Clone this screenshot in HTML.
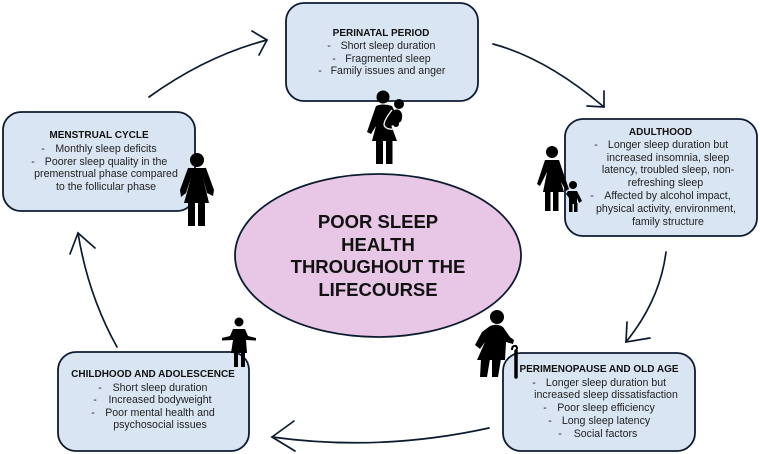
<!DOCTYPE html>
<html><head><meta charset="utf-8"><style>
html,body{margin:0;padding:0;background:#fff;width:760px;height:454px;overflow:hidden}
svg{display:block}
text{font-family:"Liberation Sans",sans-serif;font-size:10.6px;fill:#222;text-anchor:middle}
.t{font-size:10px;font-weight:bold;fill:#111}
.b{fill:#dae5f3;stroke:#0d1b30;stroke-width:1.8}
.a{fill:none;stroke:#0d1b30;stroke-width:1.7;stroke-linecap:round}
.m text{font-size:18.5px;font-weight:bold;fill:#111}
</style></head><body>
<svg width="760" height="454" viewBox="0 0 760 454" xmlns="http://www.w3.org/2000/svg">
<!-- arrows -->
<path class="a" d="M149 97Q206 56 267 40"/><path class="a" d="M252 31L267 40L259 55"/>
<path class="a" d="M493 44Q546 58 604 107"/><path class="a" d="M604 91L604 107L587 106"/>
<path class="a" d="M666 252Q660 300 626 342"/><path class="a" d="M627 322L626 342L650 338"/>
<path class="a" d="M489 428Q380 452 272 437"/><path class="a" d="M294 421L272 437L295 451"/>
<path class="a" d="M117 347Q88 295 78 233"/><path class="a" d="M70 254L78 233L95 248"/>
<!-- ellipse -->
<ellipse cx="378" cy="255.500" rx="143" ry="81.500" fill="#e8c6e6" stroke="#0d1b30" stroke-width="1.8"/>
<g class="m">
<text x="378" y="228">POOR SLEEP</text>
<text x="378" y="251">HEALTH</text>
<text x="378" y="273">THROUGHOUT THE</text>
<text x="378" y="296">LIFECOURSE</text>
</g>
<!-- boxes -->
<rect class="b" x="286" y="3" width="192" height="98" rx="18"/>
<rect class="b" x="565" y="119" width="192" height="117" rx="18"/>
<rect class="b" x="503" y="353" width="192" height="98" rx="18"/>
<rect class="b" x="58" y="352" width="191" height="99" rx="18"/>
<rect class="b" x="3" y="112" width="192" height="99" rx="18"/>
<!-- perinatal -->
<text class="t" x="381" y="36">PERINATAL PERIOD</text>
<text x="329" y="49">-</text><text x="388" y="49">Short sleep duration</text>
<text x="334" y="62">-</text><text x="388" y="62">Fragmented sleep</text>
<text x="320" y="74">-</text><text x="388" y="74">Family issues and anger</text>
<!-- adulthood -->
<text class="t" x="660.500" y="135">ADULTHOOD</text>
<text x="596" y="148">-</text><text x="668" y="148">Longer sleep duration but</text>
<text x="668" y="161">increased insomnia, sleep</text>
<text x="668" y="173">latency, troubled sleep, non-</text>
<text x="665.500" y="186">refreshing sleep</text>
<text x="592" y="199">-</text><text x="667.500" y="199">Affected by alcohol impact,</text>
<text x="666" y="212">physical activity, environment,</text>
<text x="668" y="225">family structure</text>
<!-- perimenopause -->
<text class="t" x="599" y="372">PERIMENOPAUSE AND OLD AGE</text>
<text x="534" y="386">-</text><text x="606" y="386">Longer sleep duration but</text>
<text x="606" y="398">increased sleep dissatisfaction</text>
<text x="545" y="411">-</text><text x="606" y="411">Poor sleep efficiency</text>
<text x="550" y="424">-</text><text x="606" y="424">Long sleep latency</text>
<text x="560" y="437">-</text><text x="605.500" y="437">Social factors</text>
<!-- childhood -->
<text class="t" x="153" y="377">CHILDHOOD AND ADOLESCENCE</text>
<text x="100" y="391">-</text><text x="160" y="391">Short sleep duration</text>
<text x="95" y="403">-</text><text x="160" y="403">Increased bodyweight</text>
<text x="93" y="416">-</text><text x="160" y="416">Poor mental health and</text>
<text x="160" y="428">psychosocial issues</text>
<!-- menstrual -->
<text class="t" x="99" y="138">MENSTRUAL CYCLE</text>
<text x="43" y="152">-</text><text x="106" y="152">Monthly sleep deficits</text>
<text x="33" y="165">-</text><text x="106" y="165">Poorer sleep quality in the</text>
<text x="106" y="177">premenstrual phase compared</text>
<text x="106" y="190">to the follicular phase</text>
<!-- figure: perinatal mother -->
<g fill="#000">
<circle cx="383" cy="97" r="6.500"/>
<path d="M376 106Q383 103 392 106L395 112L391 125L397 141H372L376 126L371 134L367 132Z"/>
<rect x="376" y="140" width="7" height="24"/><rect x="386" y="140" width="6.500" height="24"/>
<circle cx="399" cy="104" r="5"/>
<path d="M394 110Q400 108 402 114Q403 122 398 123L391 126Q385 123 391 118Z"/>
<circle cx="396" cy="124" r="3"/>
</g>
<path d="M392 110Q384 120 384 125Q386 130 394 129" fill="none" stroke="#fff" stroke-width="1.300"/>
<!-- figure: adult with child -->
<g fill="#000">
<circle cx="552" cy="152" r="6"/>
<path d="M545 160H559L563 172L569 189L566 191L561 182L564 192H543L547 172L540 186L537 184Z"/>
<rect x="545" y="191" width="5.500" height="20"/><rect x="553" y="191" width="5.500" height="20"/>
<circle cx="573" cy="185" r="4"/>
<path d="M568 191H577L582 201L579 203L577 198V204H569V198L566 194Z"/>
<rect x="569" y="203" width="3.500" height="9"/><rect x="574" y="203" width="3.500" height="9"/>
<!-- elder -->
<circle cx="497" cy="317" r="7"/>
<path d="M490 326Q497 323 503 327L510 337L514 340L513 344L506 342L505 360H477L485 342L480 349L475 345L482 332Z"/>
<path d="M481 359H490L487 377H480Z"/><path d="M492 359H501L498 377H492Z"/>
</g>
<path d="M512 350Q512 345 516 346Q518 348 516 351" fill="none" stroke="#000" stroke-width="2"/>
<path d="M516 351V377" stroke="#000" stroke-width="3.500" stroke-linecap="round"/>
<!-- child figure -->
<g fill="#000">
<circle cx="239" cy="322" r="4.500"/>
<path d="M233 329H245L248 336L256 338V340.500L246 340L247 353H231L233 340L222 340.500V338L230 336Z"/>
<rect x="234" y="352" width="4" height="15"/><rect x="241" y="352" width="4" height="15"/>
<!-- menstrual woman -->
<circle cx="197" cy="160" r="7"/>
<path d="M188 168H206L214 190L213 196L207 193L203 178L209 203H184L191 178L186 193L181 197L180 190Z"/>
<rect x="188" y="202" width="7" height="24"/><rect x="198" y="202" width="7" height="24"/>
</g>
</svg>
</body></html>
